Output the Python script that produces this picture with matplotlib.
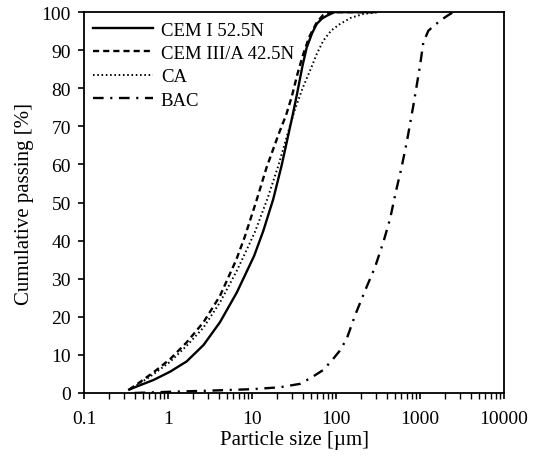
import numpy as np
import matplotlib.pyplot as plt
from matplotlib.ticker import LogLocator, NullFormatter, FixedLocator

plt.rcParams['font.family'] = ['Liberation Serif', 'DejaVu Serif']

# particle size [um] and cumulative passing [%]
cem1_x = [0.345, 0.46, 0.67, 1.06, 1.67, 2.65, 4.16, 6.6, 10.6, 13.6, 17.9, 22.5,
          26.9, 30.5, 34.2, 40, 44.8, 52, 59, 68, 77, 96, 300]
cem1_y = [0.9, 2.0, 3.4, 5.6, 8.3, 12.6, 18.6, 26.4, 36.0, 42.5, 50.9, 59.7,
          67.5, 73.0, 78.3, 86.0, 90.7, 94.5, 96.9, 98.3, 99.0, 100, 100]

cem3_x = [0.345, 0.46, 0.67, 1.06, 1.67, 2.65, 4.16, 6.5, 8.2, 11.3, 14.9, 21.1,
          25.5, 29.9, 35, 40.8, 48, 59, 70, 85, 300]
cem3_y = [0.9, 2.8, 5.4, 8.9, 13.3, 18.6, 25.5, 35.0, 41.0, 50.5, 59.2, 68.4,
          73.0, 78.0, 84.0, 89.0, 93.5, 97.3, 99.2, 100, 100]

ca_x = [0.345, 0.46, 0.67, 1.06, 1.67, 2.65, 4.16, 6.6, 8.6, 10.8, 15.2, 20.6,
        25.7, 32.5, 40, 49, 59, 70.6, 88, 112, 150, 211, 305]
ca_y = [0.9, 2.5, 4.9, 8.2, 12.4, 17.2, 23.8, 32.1, 37.5, 42.2, 50.9, 59.7,
        67.0, 74.5, 80.0, 84.6, 89.0, 92.5, 95.2, 96.9, 98.5, 99.5, 100]

bac_x = [0.4, 1.0, 3.0, 10, 21.5, 37.3, 51.4, 70, 89, 110, 134, 168, 221, 291, 366,
         440, 514, 600, 695, 832, 1000, 1094, 1256, 1500, 1729, 2100, 2490]
bac_y = [0.0, 0.3, 0.6, 1.0, 1.5, 2.4, 4.1, 6.0, 8.5, 11.0, 14.2, 20.3, 26.8, 33.0, 39.6,
         45.7, 52.7, 59.0, 65.8, 75.4, 85.9, 92.0, 95.1, 96.6, 97.7, 99.0, 100]

fig = plt.figure(figsize=(5.33, 4.6), dpi=100)
ax = fig.add_axes([0.1576, 0.1435, 0.788, 0.828])

ax.plot(cem1_x, cem1_y, color="k", lw=1.7, ls="-", label="CEM I 52.5N")
ax.plot(cem3_x, cem3_y, color="k", lw=1.7, ls=(0, (2.6, 1.7)), label="CEM III/A 42.5N")
ax.plot(ca_x, ca_y, color="k", lw=1.4, ls=(0, (0.8, 1.4)), label="CA")
ax.plot(bac_x, bac_y, color="k", lw=1.7, ls=(0, (4.5, 2.8, 0.9, 2.8)), label="BAC")

ax.set_xscale("log")
ax.set_xlim(0.1, 10000)
ax.set_ylim(0, 100)
ax.set_xticks([0.1, 1, 10, 100, 1000, 10000])
ax.set_xticklabels(["0.1", "1", "10", "100", "1000", "10000"])
ax.xaxis.set_minor_locator(LogLocator(base=10, subs=np.arange(2, 10), numticks=20))
ax.xaxis.set_minor_formatter(NullFormatter())
ax.yaxis.set_major_locator(FixedLocator(np.arange(0, 101, 10)))

for s in ax.spines.values():
    s.set_linewidth(1.3)
ax.tick_params(which="major", direction="out", length=4.5, width=1.2, labelsize=14)
ax.tick_params(axis="y", which="major", pad=5)
ax.tick_params(axis="x", which="major", pad=8)
ax.tick_params(which="minor", direction="out", length=4, width=1.0)

ax.set_xlabel("Particle size [\u00b5m]", fontsize=15, labelpad=2)
ax.set_ylabel("Cumulative passing [%]", fontsize=15, labelpad=5)

ax.legend(loc="upper left", frameon=False, fontsize=13.5, handlelength=3.2,
          handletextpad=0.4, labelspacing=0.33, borderaxespad=0.2, borderpad=0.3)

fig.savefig("out.png", dpi=100)
